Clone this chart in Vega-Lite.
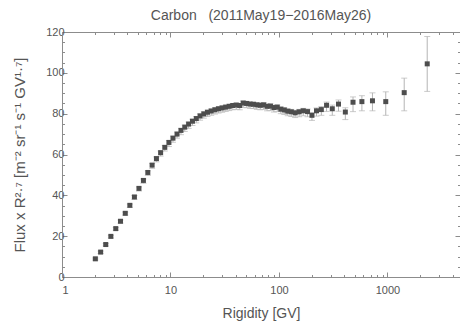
{
  "$schema": "https://vega.github.io/schema/vega-lite/v6.json",
  "width": 398,
  "height": 245,
  "autosize": "none",
  "padding": {"left": 62, "top": 32, "right": 0, "bottom": 45},
  "background": "white",
  "config": {
    "view": {"stroke": null},
    "axis": {
      "grid": false,
      "domainColor": "#8c8c8c",
      "tickColor": "#8c8c8c",
      "labelColor": "#555555",
      "labelFont": "Liberation Sans",
      "labelFontSize": 11,
      "titleColor": "#555555",
      "titleFont": "Liberation Sans",
      "titleFontSize": 14,
      "titleFontWeight": "normal",
      "labelOverlap": false
    }
  },
  "title": {
    "text": "Carbon\u00a0\u00a0\u00a0(2011May19\u22122016May26)",
    "font": "Liberation Sans",
    "fontSize": 14,
    "fontWeight": "normal",
    "color": "#555555",
    "anchor": "middle",
    "offset": 3
  },
  "data": {
    "values": [
      {"R": 2.03, "F": 8.9, "lo": 8.3, "hi": 9.3},
      {"R": 2.27, "F": 12.2, "lo": 11.5, "hi": 12.7},
      {"R": 2.53, "F": 15.9, "lo": 15.2, "hi": 16.4},
      {"R": 2.82, "F": 19.9, "lo": 19.1, "hi": 20.4},
      {"R": 3.13, "F": 23.7, "lo": 22.9, "hi": 24.2},
      {"R": 3.46, "F": 27.3, "lo": 26.4, "hi": 27.9},
      {"R": 3.83, "F": 31.2, "lo": 30.3, "hi": 31.8},
      {"R": 4.22, "F": 35.1, "lo": 34.1, "hi": 35.7},
      {"R": 4.65, "F": 39.2, "lo": 38.0, "hi": 39.9},
      {"R": 5.12, "F": 43.4, "lo": 42.1, "hi": 44.1},
      {"R": 5.63, "F": 47.3, "lo": 45.9, "hi": 48.0},
      {"R": 6.18, "F": 51.2, "lo": 49.7, "hi": 52.0},
      {"R": 6.77, "F": 54.8, "lo": 53.2, "hi": 55.6},
      {"R": 7.42, "F": 58.0, "lo": 56.4, "hi": 58.8},
      {"R": 8.11, "F": 60.9, "lo": 59.2, "hi": 61.7},
      {"R": 8.86, "F": 63.5, "lo": 61.7, "hi": 64.4},
      {"R": 9.67, "F": 65.9, "lo": 63.9, "hi": 66.9},
      {"R": 10.54, "F": 68.0, "lo": 66.0, "hi": 69.0},
      {"R": 11.49, "F": 70.0, "lo": 68.0, "hi": 71.0},
      {"R": 12.49, "F": 71.8, "lo": 69.7, "hi": 72.8},
      {"R": 13.54, "F": 73.4, "lo": 71.3, "hi": 74.4},
      {"R": 14.69, "F": 74.9, "lo": 72.8, "hi": 75.9},
      {"R": 15.94, "F": 76.3, "lo": 74.2, "hi": 77.3},
      {"R": 17.29, "F": 77.6, "lo": 75.5, "hi": 78.6},
      {"R": 18.73, "F": 78.9, "lo": 76.8, "hi": 79.9},
      {"R": 20.28, "F": 79.9, "lo": 77.8, "hi": 80.9},
      {"R": 21.93, "F": 80.7, "lo": 78.6, "hi": 81.7},
      {"R": 23.73, "F": 81.3, "lo": 79.2, "hi": 82.3},
      {"R": 25.68, "F": 81.9, "lo": 79.8, "hi": 82.9},
      {"R": 27.73, "F": 82.4, "lo": 80.3, "hi": 83.4},
      {"R": 29.93, "F": 82.8, "lo": 80.7, "hi": 83.8},
      {"R": 32.28, "F": 83.2, "lo": 81.1, "hi": 84.2},
      {"R": 34.78, "F": 83.6, "lo": 81.5, "hi": 84.6},
      {"R": 37.47, "F": 84.0, "lo": 81.9, "hi": 85.0},
      {"R": 40.37, "F": 84.2, "lo": 82.1, "hi": 85.2},
      {"R": 43.47, "F": 84.0, "lo": 81.9, "hi": 85.0},
      {"R": 46.77, "F": 85.2, "lo": 83.1, "hi": 86.2},
      {"R": 50.32, "F": 85.0, "lo": 82.9, "hi": 86.0},
      {"R": 54.12, "F": 84.7, "lo": 82.6, "hi": 85.7},
      {"R": 58.16, "F": 84.6, "lo": 82.5, "hi": 85.6},
      {"R": 62.51, "F": 84.3, "lo": 82.1, "hi": 85.4},
      {"R": 67.21, "F": 84.1, "lo": 81.9, "hi": 85.2},
      {"R": 72.25, "F": 84.3, "lo": 82.1, "hi": 85.4},
      {"R": 77.65, "F": 83.6, "lo": 81.4, "hi": 84.7},
      {"R": 83.45, "F": 83.7, "lo": 81.5, "hi": 84.8},
      {"R": 89.69, "F": 83.0, "lo": 80.8, "hi": 84.1},
      {"R": 96.44, "F": 83.2, "lo": 81.0, "hi": 84.3},
      {"R": 103.9, "F": 82.2, "lo": 80.0, "hi": 83.3},
      {"R": 111.9, "F": 81.8, "lo": 79.6, "hi": 82.9},
      {"R": 120.4, "F": 81.2, "lo": 79.0, "hi": 82.4},
      {"R": 129.9, "F": 80.9, "lo": 78.6, "hi": 82.1},
      {"R": 140.9, "F": 80.4, "lo": 78.1, "hi": 81.6},
      {"R": 153.4, "F": 80.9, "lo": 78.5, "hi": 82.1},
      {"R": 167.3, "F": 81.4, "lo": 79.0, "hi": 82.6},
      {"R": 183.3, "F": 81.0, "lo": 78.5, "hi": 82.3},
      {"R": 201.3, "F": 79.2, "lo": 76.7, "hi": 80.5},
      {"R": 221.7, "F": 81.4, "lo": 78.8, "hi": 82.8},
      {"R": 245.7, "F": 82.0, "lo": 79.2, "hi": 83.5},
      {"R": 274.5, "F": 84.1, "lo": 81.1, "hi": 85.7},
      {"R": 309.9, "F": 82.4, "lo": 79.2, "hi": 84.2},
      {"R": 353.7, "F": 84.7, "lo": 81.2, "hi": 86.7},
      {"R": 408.8, "F": 80.8, "lo": 77.1, "hi": 82.9},
      {"R": 481.2, "F": 85.6, "lo": 81.0, "hi": 88.2},
      {"R": 581, "F": 85.9, "lo": 81.4, "hi": 88.8},
      {"R": 727, "F": 86.3, "lo": 81.4, "hi": 90.2},
      {"R": 964, "F": 85.9, "lo": 79.2, "hi": 90.7},
      {"R": 1426, "F": 90.3, "lo": 81.4, "hi": 97.4},
      {"R": 2324, "F": 104.4, "lo": 90.9, "hi": 117.8}
    ]
  },
  "resolve": {"axis": {"x": "independent", "y": "independent"}},
  "layer": [
    {
      "mark": {"type": "rule", "color": "#b5b5b5", "strokeWidth": 1},
      "encoding": {
        "x": {
          "field": "R", "type": "quantitative",
          "scale": {"type": "log", "domain": [1, 4660], "nice": false},
          "axis": {
            "orient": "top", "labels": false, "title": null,
            "values": [1,2,3,4,5,6,7,8,9,10,20,30,40,50,60,70,80,90,100,200,300,400,500,600,700,800,900,1000,2000,3000,4000],
            "tickSize": {"condition": {"test": "datum.value == 1 || datum.value == 10 || datum.value == 100 || datum.value == 1000", "value": -5}, "value": -2.5}
          }
        },
        "y": {
          "field": "lo", "type": "quantitative",
          "scale": {"domain": [0, 120], "nice": false},
          "axis": {
            "orient": "right", "labels": false, "title": null,
            "values": [0,5,10,15,20,25,30,35,40,45,50,55,60,65,70,75,80,85,90,95,100,105,110,115,120],
            "tickSize": {"condition": {"test": "datum.value % 20 == 0", "value": -5}, "value": -2.5}
          }
        },
        "y2": {"field": "hi"}
      }
    },
    {
      "mark": {"type": "tick", "orient": "horizontal", "color": "#b5b5b5", "size": 6, "thickness": 1},
      "encoding": {
        "x": {"field": "R", "type": "quantitative", "axis": null},
        "y": {"field": "lo", "type": "quantitative", "axis": null}
      }
    },
    {
      "mark": {"type": "tick", "orient": "horizontal", "color": "#b5b5b5", "size": 6, "thickness": 1},
      "encoding": {
        "x": {"field": "R", "type": "quantitative", "axis": null},
        "y": {"field": "hi", "type": "quantitative", "axis": null}
      }
    },
    {
      "mark": {"type": "square", "filled": true, "color": "#4d4d4d", "opacity": 1, "size": 25},
      "encoding": {
        "x": {
          "field": "R", "type": "quantitative",
          "axis": {
            "orient": "bottom", "title": "Rigidity [GV]",
            "values": [1,2,3,4,5,6,7,8,9,10,20,30,40,50,60,70,80,90,100,200,300,400,500,600,700,800,900,1000,2000,3000,4000],
            "labelExpr": "(datum.value == 1 || datum.value == 10 || datum.value == 100 || datum.value == 1000) ? format(datum.value, 'd') : ''",
            "tickSize": {"condition": {"test": "datum.value == 1 || datum.value == 10 || datum.value == 100 || datum.value == 1000", "value": -5}, "value": -2.5},
            "labelPadding": 12,
            "titlePadding": 9
          }
        },
        "y": {
          "field": "F", "type": "quantitative",
          "axis": {
            "orient": "left",
            "title": "Flux x R\u00b2\u00b7\u2077 [m\u207b\u00b2 sr\u207b\u00b9 s\u207b\u00b9 GV\u00b9\u00b7\u2077]",
            "titleFontSize": 15,
            "values": [0,5,10,15,20,25,30,35,40,45,50,55,60,65,70,75,80,85,90,95,100,105,110,115,120],
            "labelExpr": "datum.value % 20 == 0 ? format(datum.value, 'd') : ''",
            "tickSize": {"condition": {"test": "datum.value % 20 == 0", "value": -5}, "value": -2.5},
            "labelPadding": 3,
            "titlePadding": 18
          }
        }
      }
    }
  ]
}
